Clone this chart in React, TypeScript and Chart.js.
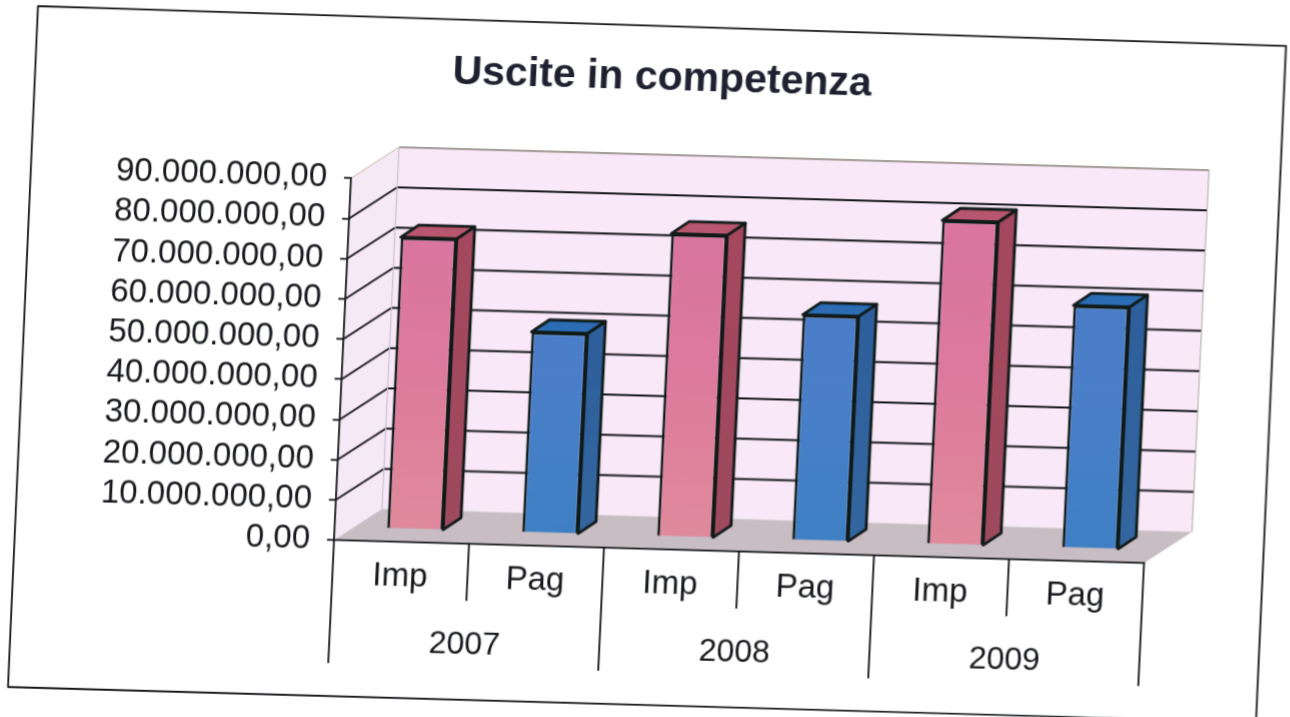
import React, { useEffect, useRef } from "react";
import { Chart, registerables } from "chart.js";

Chart.register(...registerables);

const titleText = "Uscite in competenza";
const categories = ["Imp", "Pag", "Imp", "Pag", "Imp", "Pag"];
const years = ["2007", "2008", "2009"];
const values = [72600000, 50000000, 75400000, 56200000, 80600000, 60400000];
const yMax = 90000000;
const yStep = 10000000;

const FONT = "'Liberation Sans', Arial, sans-serif";
const INK = "#17181d";
const LINE = "#15161a";
const WALL_DEPTH = { x: 46.5, y: -32.4 };
const BAR_OFFSET = { x: 13, y: -12.5 };
const BAR_DEPTH = { x: 17.4, y: -12.5 };

const poly = (ctx: CanvasRenderingContext2D, pts: number[][], fill?: any, stroke?: string, lw = 1) => {
  ctx.beginPath();
  pts.forEach((p, i) => (i ? ctx.lineTo(p[0], p[1]) : ctx.moveTo(p[0], p[1])));
  ctx.closePath();
  if (fill) {
    ctx.fillStyle = fill;
    ctx.fill();
  }
  if (stroke) {
    ctx.strokeStyle = stroke;
    ctx.lineWidth = lw;
    ctx.lineJoin = "round";
    ctx.stroke();
  }
};

const line = (ctx: CanvasRenderingContext2D, x0: number, y0: number, x1: number, y1: number, color: string, lw: number) => {
  ctx.beginPath();
  ctx.moveTo(x0, y0);
  ctx.lineTo(x1, y1);
  ctx.strokeStyle = color;
  ctx.lineWidth = lw;
  ctx.stroke();
};

const scenePlugin = {
  id: "scene",
  beforeDraw(chart: any) {
    const { ctx, chartArea: a, scales } = chart;
    const dx = WALL_DEPTH.x;
    const dy = WALL_DEPTH.y;
    ctx.save();
    // page frame
    poly(ctx, [[13.3, 15.1], [1261.5, 19.7], [1263.3, 695.6], [15.3, 696]], null, LINE, 1.8);
    // walls
    poly(ctx, [[a.left, a.bottom], [a.left + dx, a.bottom + dy], [a.left + dx, a.top + dy], [a.left, a.top]], "#f6e9f6");
    poly(ctx, [[a.left + dx, a.bottom + dy], [a.right + dx, a.bottom + dy], [a.right + dx, a.top + dy], [a.left + dx, a.top + dy]], "#f9e9f8");
    // floor
    poly(ctx, [[a.left, a.bottom], [a.right, a.bottom], [a.right + dx, a.bottom + dy], [a.left + dx, a.bottom + dy]], "#c8bdc3");
    // gridlines
    scales.y.ticks.forEach((t: any, i: number) => {
      const py = scales.y.getPixelForValue(t.value);
      if (i === 0) return;
      const top = i === scales.y.ticks.length - 1;
      line(ctx, a.left, py, a.left + dx, py + dy, top ? "#c4b49c" : LINE, top ? 1 : 1.8);
      line(ctx, a.left + dx, py + dy, a.right + dx, py + dy, top ? "#6e6558" : LINE, top ? 1.3 : 2);
    });
    line(ctx, a.left + dx, a.top + dy, a.left + dx, a.bottom + dy, "#c9c2cb", 1.2);
    line(ctx, a.right + dx, a.top + dy, a.right + dx, a.bottom + dy, "#b9b2b0", 1.2);
    // category dividers
    const band = (a.right - a.left) / categories.length;
    categories.forEach((_, i) => {
      const x = a.left + i * band;
      line(ctx, x, a.bottom, x, a.bottom + (i % 2 ? 57 : 123), LINE, 1.8);
    });
    line(ctx, a.right, a.bottom, a.right, a.bottom + 123, LINE, 1.8);
    ctx.restore();
  },
  beforeDatasetsDraw(chart: any) {
    chart.ctx.save();
    chart.ctx.translate(BAR_OFFSET.x, BAR_OFFSET.y);
  },
  afterDatasetsDraw(chart: any) {
    const { ctx } = chart;
    chart.getDatasetMeta(0).data.forEach((el: any, i: number) => {
      const p = el.getProps(["x", "y", "base", "width"], true);
      const l = p.x - p.width / 2;
      const r = p.x + p.width / 2;
      const dx = BAR_DEPTH.x;
      const dy = BAR_DEPTH.y;
      const pink = i % 2 === 0;
      const g = ctx.createLinearGradient(0, p.y, 0, p.base);
      g.addColorStop(0, pink ? "#a5485f" : "#2e5f9c");
      g.addColorStop(1, pink ? "#9e4a5e" : "#34669f");
      poly(ctx, [[r, p.y], [r + dx, p.y + dy], [r + dx, p.base + dy], [r, p.base]], g, "#101a18", 2.8);
      poly(ctx, [[l, p.y], [r, p.y], [r + dx, p.y + dy], [l + dx, p.y + dy]], pink ? "#b9566f" : "#2b6cb5", "#101a18", 2.8);
    });
    ctx.restore();
  },
};

const frontFill = (c: any) => {
  const { chart, dataIndex } = c;
  const area = chart.chartArea;
  const pink = dataIndex % 2 === 0;
  if (!area) return pink ? "#dc7a9f" : "#4c7dc8";
  const g = chart.ctx.createLinearGradient(0, area.top, 0, area.bottom);
  g.addColorStop(0, pink ? "#d8749f" : "#4a7ac8");
  g.addColorStop(0.55, pink ? "#dd7a9c" : "#4b7fc9");
  g.addColorStop(1, pink ? "#e08a9c" : "#3f80c4");
  return g;
};

const fmt = (v: number) => v.toLocaleString("it-IT", { minimumFractionDigits: 2, maximumFractionDigits: 2 });

export default function App() {
  const ref = useRef<HTMLCanvasElement>(null);
  useEffect(() => {
    const chart = new Chart(ref.current!, {
      type: "bar",
      plugins: [scenePlugin],
      data: {
        labels: categories,
        datasets: [
          {
            data: values,
            backgroundColor: frontFill,
            borderColor: "#101a18",
            borderWidth: 2.8,
            barPercentage: 0.415,
            categoryPercentage: 1,
            clip: false,
          } as any,
        ],
      },
      options: {
        animation: false,
        responsive: false,
        devicePixelRatio: 1,
        layout: { padding: 0 },
        plugins: {
          legend: { display: false },
          tooltip: { enabled: false },
          title: {
            display: true,
            text: titleText,
            color: "#1f2030",
            font: { family: FONT, size: 41, weight: "bold" },
            padding: { top: 45, bottom: 84 },
          },
        },
        scales: {
          y: {
            min: 0,
            max: yMax,
            position: "left",
            afterFit: (s: any) => {
              s.width = 334;
            },
            ticks: {
              stepSize: yStep,
              autoSkip: false,
              color: INK,
              padding: 17,
              font: { family: FONT, size: 33 },
              callback: (v: any) => fmt(Number(v)),
            },
            grid: { drawOnChartArea: false, tickLength: 7, color: LINE, lineWidth: 1.8 },
            border: { display: true, color: LINE, width: 1.8 },
          },
          spare: {
            axis: "y",
            position: "right",
            display: true,
            afterFit: (s: any) => {
              s.width = 136;
            },
            ticks: { display: false },
            grid: { display: false },
            border: { display: false },
          },
          x: {
            weight: 0,
            position: "bottom",
            afterFit: (s: any) => {
              s.height = 60;
            },
            ticks: { color: INK, padding: 15, font: { family: FONT, size: 33 }, maxRotation: 0, autoSkip: false },
            grid: { display: false, drawTicks: false },
            border: { display: true, color: LINE, width: 1.8 },
          },
          years: {
            type: "category",
            axis: "x",
            weight: 1,
            position: "bottom",
            labels: years,
            offset: true,
            afterFit: (s: any) => {
              s.height = 117;
            },
            ticks: { color: INK, padding: 22, font: { family: FONT, size: 32 }, maxRotation: 0, autoSkip: false },
            grid: { display: false, drawTicks: false },
            border: { display: false },
          },
        } as any,
      },
    } as any);
    return () => chart.destroy();
  }, []);

  return (
    <div style={{ position: "fixed", inset: 0, overflow: "hidden", background: "#fff" }}>
      <canvas
        ref={ref}
        width={1280}
        height={717}
        style={{
          display: "block",
          transformOrigin: "0 0",
          transform: "matrix(1, 0.0284, -0.047, 1, 25.38, -9.49)",
          filter: "blur(0.35px)",
        }}
      />
    </div>
  );
}
